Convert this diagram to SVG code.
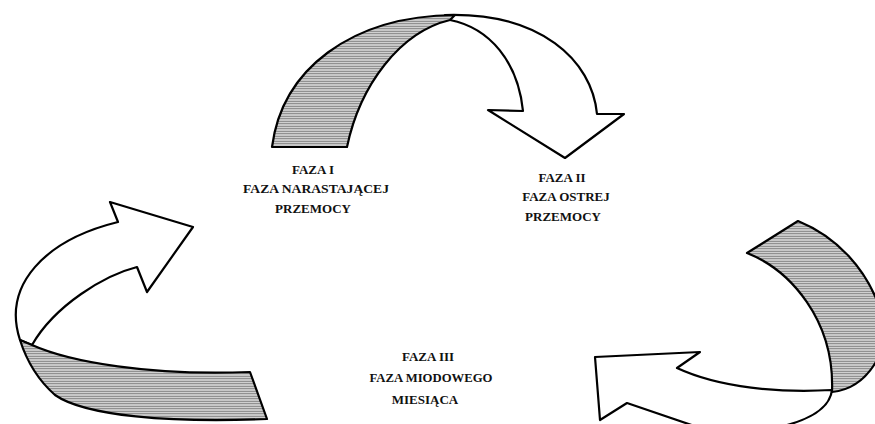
<svg xmlns="http://www.w3.org/2000/svg" width="875" height="424" viewBox="0 0 875 424">
<defs>
<pattern id="hatch" width="4" height="2.5" patternUnits="userSpaceOnUse">
<rect width="4" height="2.5" fill="#d4d4d4"/>
<path d="M0,1.25H4" stroke="#767676" stroke-width="0.9"/>
</pattern>
<style>
.body{fill:#fff;stroke:#000;stroke-width:2.2;stroke-linejoin:round}
.band{fill:url(#hatch);stroke:#000;stroke-width:2.2;stroke-linejoin:round}
.lbl{font-family:"Liberation Serif","DejaVu Serif",serif;font-weight:bold;font-size:13px;fill:#111;text-anchor:middle}
</style>
</defs>
<rect width="875" height="424" fill="#fff"/>
<g id="connectors">
<g id="arrow-top">
<path class="body" d="M445,15 C540,12 592,60 597,114 L624,114 L565,158 L488,110 L523,111 C518,62 490,28 450,20 Z"/>
<path class="band" d="M272,147 C282,70 350,16 455,15 L450,20 C400,32 360,85 347,147 Z"/>
</g>
<g id="arrow-left">
<path class="body" d="M20,340 C2,285 45,240 118,222 L110,202 L193,227 L147,292 L137,267 C105,275 55,305 32,345 Z"/>
<path class="band" d="M20,340 L32,345 C70,362 150,376 250,372 L267,419 C170,423 85,416 55,395 C38,380 27,362 20,340 Z"/>
</g>
<g id="arrow-right">
<path class="body" d="M832,390 C830,408 810,422 765,430 L715,433 L627,403 L600,420 L595,357 L700,352 L677,368 C720,388 780,393 832,390 Z"/>
<path class="band" d="M747,253 L798,221 C835,236 868,268 882,315 L882,350 C870,378 852,390 832,392 C835,320 790,270 747,253 Z"/>
</g>
</g>
<g id="phase1">
<text class="lbl" x="313" y="174">FAZA I</text>
<text class="lbl" x="316" y="193" textLength="146" lengthAdjust="spacingAndGlyphs">FAZA NARASTAJĄCEJ</text>
<text class="lbl" x="313" y="213">PRZEMOCY</text>
</g>
<g id="phase2">
<text class="lbl" x="562" y="182">FAZA II</text>
<text class="lbl" x="566" y="201">FAZA OSTREJ</text>
<text class="lbl" x="563" y="221">PRZEMOCY</text>
</g>
<g id="phase3">
<text class="lbl" x="428" y="361">FAZA III</text>
<text class="lbl" x="431" y="382" textLength="123" lengthAdjust="spacingAndGlyphs">FAZA MIODOWEGO</text>
<text class="lbl" x="425" y="404">MIESIĄCA</text>
</g>
</svg>
